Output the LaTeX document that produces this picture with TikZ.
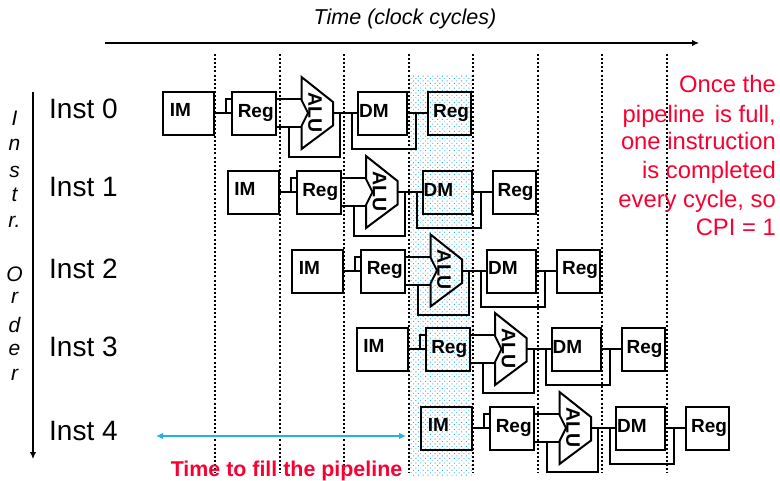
\documentclass[tikz,border=0pt]{standalone}
\usepackage{fontspec}
\setmainfont{Liberation Sans}
\usetikzlibrary{patterns.meta,arrows.meta}
\definecolor{cy}{RGB}{40,175,230}
\definecolor{rd}{RGB}{250,0,50}
\tikzset{x=1pt,y=-1pt,
 unit/.style={draw=black,line width=2pt,minimum width=#1,minimum height=43pt,inner sep=0pt,outer sep=0pt},
 utext/.style={font=\bfseries\fontsize{19}{19}\selectfont,anchor=base,inner sep=0pt},
 wire/.style={line width=2pt,line join=miter},
 div/.style={line width=1.9pt,dash pattern=on 2pt off 2.1pt},
 lab/.style={font=\fontsize{28}{28}\selectfont,anchor=base west,inner sep=0pt},
 ord/.style={font=\itshape\fontsize{21}{21}\selectfont,inner sep=0pt},
 note/.style={font=\fontsize{23.8}{23.8}\selectfont,text=rd,anchor=base east,inner sep=0pt}}
% #1 name, #2 x offset, #3 y offset
\newcommand{\pipe}[3]{%
 \begin{scope}[shift={(#2,#3)}]
 \node[unit=51pt] (im#1) at (188.5,113.5) {};
 \node[unit=44pt] (ra#1) at (254,113.5) {};
 \node[unit=49pt] (dm#1) at (382.5,113.5) {};
 \node[unit=43pt] (rb#1) at (449.5,113.5) {};
 \node[utext] (tim#1) at (180.5,116.5) {IM};
 \node[utext] (tra#1) at (255.7,117) {Reg};
 \node[utext] (tdm#1) at (374,117) {DM};
 \node[utext] (trb#1) at (451,117) {Reg};
 \coordinate (al#1) at (333,113);
 \draw[wire] (301.5,77)--(333,102)--(333,125.5)--(301.5,149)--(301.5,126)--(308,113)--(301.5,100)--cycle;
 \node[font=\bfseries\fontsize{19.5}{19.5}\selectfont,rotate=-90,inner sep=0pt] (alu#1) at (315,112.5) {ALU};
 \draw[wire] (im#1.east |- 0,113)--(ra#1.west |- 0,113);
 \draw[wire] (226,113)--(226,99)--(ra#1.west |- 0,99);
 \draw[wire] (ra#1.east |- 0,99)--(301.5,99);
 \draw[wire] (ra#1.east |- 0,127)--(301.5,127);
 \draw[wire] (289,127)--(289,157)--(340,157)--(340,113);
 \draw[wire] (al#1)--(dm#1.west |- 0,113);
 \draw[wire] (352,113)--(352,149)--(416,149)--(416,113);
 \draw[wire] (dm#1.east |- 0,113)--(rb#1.west |- 0,113);
 \end{scope}}
\begin{document}
\begin{tikzpicture}
\useasboundingbox (0,0) rectangle (780,480);
\fill[white] (0,0) rectangle (780,480);
\fill[pattern={Dots[distance=3.4pt,radius=0.65pt,angle=45]},pattern color=cy] (409,74) rectangle (473,475);
\foreach \x in {215,280,344,409,473,538,602,667}
  \draw[div] (\x,54)--(\x,473);
\node[font=\itshape\fontsize{21.5}{21.5}\selectfont,inner sep=0pt] (tt) at (405,19) {Time (clock cycles)};
\coordinate (ta) at (105,43); \coordinate (tb) at (699,43);
\draw[line width=2pt,-{Latex[length=7pt,width=6.5pt]}] (ta)--(tb);
\coordinate (oa) at (33,92); \coordinate (ob) at (33,459);
\draw[line width=2pt,-{Latex[length=7pt,width=6.5pt]}] (oa)--(ob);
\foreach \i/\y in {0/118,1/196,2/278,3/356,4/440}
  \node[lab] (inst\i) at (49,\y) {Inst \i};
\foreach \t/\y in {I/118,n/145,s/172,t/195,r./222,O/274,r/298,d/325,e/350,r/375}
  \node[ord] at (14.5,\y) {\t};
\pipe{a}{0}{0}
\pipe{b}{64.5}{79}
\pipe{c}{129}{157.5}
\pipe{d}{193.5}{236}
\pipe{e}{258}{315}
\coordinate (fa) at (156,436); \coordinate (fb) at (406,436);
\draw[cy,line width=1.1pt,{Latex[length=7pt,width=6.5pt]}-{Latex[length=7pt,width=6.5pt]}] (fa)--(fb);
\node[font=\bfseries\fontsize{21.4}{21.4}\selectfont,text=rd,anchor=base,inner sep=0pt] (fill) at (286.5,476.5) {Time to fill the pipeline};
\foreach \t/\y in {Once the/92,{pipeline\hspace{0.15em} is full,}/122,one instruction/149,is completed/178,{every cycle, so}/207,CPI = 1/235}
  \node[note] at (776,\y) {\t};
\end{tikzpicture}
\end{document}
